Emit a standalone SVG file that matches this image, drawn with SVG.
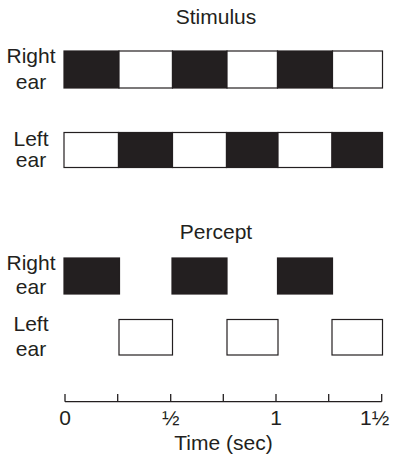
<svg xmlns="http://www.w3.org/2000/svg" width="399" height="463" viewBox="0 0 399 463">
  <style>
    text { font-family: "Liberation Sans", Arial, sans-serif; font-size: 21px; fill: #231f20; }
    .mid { text-anchor: middle; }
    .on { fill: #231f20; stroke: #231f20; stroke-width: 1.2; }
    .off { fill: #ffffff; stroke: #231f20; stroke-width: 1.2; }
    .axis { stroke: #231f20; stroke-width: 1.3; fill: none; }
  </style>
  <rect width="399" height="463" fill="#ffffff"/>

  <!-- Stimulus panel -->
  <g id="stimulus-title"><text class="mid" x="216" y="24">Stimulus</text></g>

  <g id="stimulus-right-label">
    <text class="mid" x="31" y="63">Right</text>
    <text class="mid" x="31" y="89">ear</text>
  </g>
  <g id="stimulus-right-bar">
    <rect class="on" x="64" y="51" width="55" height="37"/>
    <rect class="off" x="119" y="51" width="53.5" height="37"/>
    <rect class="on" x="172.5" y="51" width="54.5" height="37"/>
    <rect class="off" x="227" y="51" width="50.5" height="37"/>
    <rect class="on" x="277.5" y="51" width="55" height="37"/>
    <rect class="off" x="332.5" y="51" width="50" height="37"/>
  </g>

  <g id="stimulus-left-label">
    <text class="mid" x="31" y="146">Left</text>
    <text class="mid" x="31" y="167">ear</text>
  </g>
  <g id="stimulus-left-bar">
    <rect class="off" x="64" y="132.5" width="54.5" height="35"/>
    <rect class="on" x="118.5" y="132.5" width="54" height="35"/>
    <rect class="off" x="172.5" y="132.5" width="54" height="35"/>
    <rect class="on" x="226.5" y="132.5" width="51.5" height="35"/>
    <rect class="off" x="278" y="132.5" width="54" height="35"/>
    <rect class="on" x="332" y="132.5" width="50.5" height="35"/>
  </g>

  <!-- Percept panel -->
  <g id="percept-title"><text class="mid" x="216" y="239">Percept</text></g>

  <g id="percept-right-label">
    <text class="mid" x="31" y="270">Right</text>
    <text class="mid" x="31" y="294">ear</text>
  </g>
  <g id="percept-right-blocks">
    <rect class="on" x="64" y="258" width="55.5" height="36"/>
    <rect class="on" x="172" y="258" width="55" height="36"/>
    <rect class="on" x="277.5" y="258" width="55" height="36"/>
  </g>

  <g id="percept-left-label">
    <text class="mid" x="31" y="331">Left</text>
    <text class="mid" x="31" y="356">ear</text>
  </g>
  <g id="percept-left-blocks">
    <rect class="off" x="119" y="319.5" width="53.5" height="35.5"/>
    <rect class="off" x="227" y="319.5" width="51" height="35.5"/>
    <rect class="off" x="332" y="319.5" width="50.5" height="35.5"/>
  </g>

  <!-- Time axis -->
  <g id="time-axis">
    <path class="axis" d="M65 401.7 H381.7 M65 394 V401.7 M117.7 394 V401.7 M170.7 394 V401.7 M223.3 394 V401.7 M276 394 V401.7 M328.7 394 V401.7 M381.7 394 V401.7"/>
    <text class="mid" x="65" y="425">0</text>
    <text class="mid" x="170.7" y="425">½</text>
    <text class="mid" x="276" y="425">1</text>
    <text class="mid" x="374.7" y="425">1½</text>
    <text class="mid" x="223.5" y="450">Time (sec)</text>
  </g>
</svg>
